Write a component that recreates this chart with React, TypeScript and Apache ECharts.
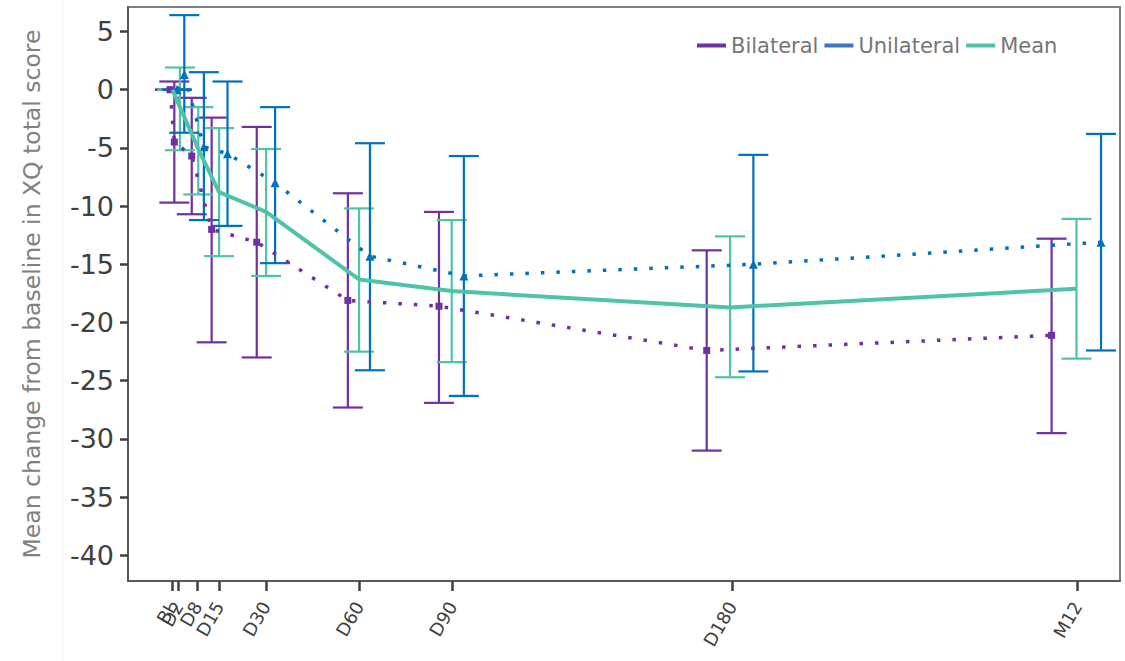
import React, { useEffect, useRef } from "react";
import * as echarts from "echarts";

// Timepoints (x position in days on the axis)
const tickLabels = ["BL", "D2", "D8", "D15", "D30", "D60", "D90", "D180", "M12"];
const tickDays = [0, 2, 8, 15, 30, 60, 90, 180, 291];

// Bilateral (dodged left)
const bilateralX = [-0.8, 0.6, 6.2, 12.6, 27.1, 56.4, 85.7, 171.8, 282.7];
const bilateralMean = [0, -4.5, -5.7, -12.0, -13.1, -18.1, -18.6, -22.4, -21.1];
const bilateralLow = [0, -9.7, -10.7, -21.7, -23.0, -27.3, -26.9, -31.0, -29.5];
const bilateralHigh = [0, 0.7, -0.7, -2.4, -3.2, -8.9, -10.5, -13.8, -12.8];

// Mean (centre)
const meanX = [0, 2.4, 8.3, 15.0, 30.1, 60.0, 89.8, 179.3, 290.7];
const meanMean = [0, -1.5, -5.1, -8.8, -10.5, -16.3, -17.3, -18.7, -17.1];
const meanLow = [0, -5.2, -9.0, -14.3, -16.0, -22.5, -23.4, -24.7, -23.1];
const meanHigh = [0, 1.9, -1.5, -3.3, -5.1, -10.2, -11.2, -12.6, -11.1];

// Unilateral (dodged right)
const unilateralX = [1.45, 3.8, 10.1, 17.7, 33.0, 63.5, 93.7, 186.8, 298.6];
const unilateralMean = [0, 1.3, -4.9, -5.5, -8.0, -14.3, -16.0, -15.0, -13.1];
const unilateralLow = [0, -3.7, -11.2, -11.7, -14.9, -24.1, -26.3, -24.2, -22.4];
const unilateralHigh = [0, 6.4, 1.5, 0.7, -1.5, -4.6, -5.7, -5.6, -3.8];

const yTicks = [5, 0, -5, -10, -15, -20, -25, -30, -35, -40];

const PURPLE = "#7030A0";
const BLUE = "#0070C0";
const BLUE_LEGEND = "#4472C4";
const TEAL = "#4EC3A8";

const errorRender = (color: string) => (params: any, api: any) => {
  const x = api.value(0);
  const lo = api.value(1);
  const hi = api.value(2);
  const pHi = api.coord([x, hi]);
  const pLo = api.coord([x, lo]);
  const w = 15;
  const style = { stroke: color, lineWidth: 2.2, fill: null };
  return {
    type: "group",
    children: [
      { type: "line", shape: { x1: pHi[0], y1: pHi[1], x2: pLo[0], y2: pLo[1] }, style },
      { type: "line", shape: { x1: pHi[0] - w, y1: pHi[1], x2: pHi[0] + w, y2: pHi[1] }, style },
      { type: "line", shape: { x1: pLo[0] - w, y1: pLo[1], x2: pLo[0] + w, y2: pLo[1] }, style },
    ],
  };
};

const zipErr = (xs: number[], lo: number[], hi: number[]) => xs.map((x, i) => [x, lo[i], hi[i]]);
const zipPt = (xs: number[], ys: number[]) => xs.map((x, i) => [x, ys[i]]);

export default function App() {
  const ref = useRef<HTMLDivElement>(null);
  useEffect(() => {
    if (!ref.current) return;
    const chart = echarts.init(ref.current, undefined, { renderer: "svg" });
    const font = "DejaVu Sans";
    const labelFmt = (v: number) => {
      const i = tickDays.findIndex((t) => Math.abs(t - v) < 1e-6);
      return i >= 0 ? tickLabels[i] : "";
    };
    // split ticks into two interleaved sets so close neighbours are not dropped
    const ticksA = tickDays.filter((_, i) => i % 2 === 0);
    const ticksB = tickDays.filter((_, i) => i % 2 === 1);
    const xAxisFor = (vals: number[], showLine: boolean) => ({
      type: "value",
      min: -14.3,
      max: 304.7,
      position: "bottom",
      splitLine: { show: false },
      axisLine: { show: showLine, onZero: false, lineStyle: { color: "#595959", width: 2 } },
      axisTick: {
        show: true,
        customValues: vals,
        length: 10,
        lineStyle: { color: "#404040", width: 2.5 },
      },
      axisLabel: {
        customValues: vals,
        interval: 0,
        hideOverlap: false,
        showMinLabel: true,
        showMaxLabel: true,
        rotate: 60,
        margin: 22,
        fontSize: 18,
        color: "#404040",
        fontFamily: font,
        formatter: labelFmt,
      },
    });
    chart.setOption({
      animation: false,
      backgroundColor: "#ffffff",
      textStyle: { fontFamily: font },
      graphic: [
        {
          type: "line",
          shape: { x1: 63, y1: 0, x2: 63, y2: 661 },
          style: { stroke: "#f2f2f2", lineWidth: 1 },
          silent: true,
        },
      ],
      legend: {
        left: 697,
        top: 35,
        padding: 0,
        itemGap: 6,
        itemWidth: 29,
        itemHeight: 4,
        icon: "rect",
        textStyle: { fontSize: 21, color: "#767676", fontFamily: font },
        data: [
          { name: "Bilateral", itemStyle: { color: PURPLE } },
          { name: "Unilateral", itemStyle: { color: BLUE_LEGEND } },
          { name: "Mean", itemStyle: { color: TEAL } },
        ],
      },
      grid: {
        left: 128,
        top: 7,
        right: 5,
        bottom: 80,
        show: true,
        borderColor: "#7f7f7f",
        borderWidth: 2,
        containLabel: false,
      },
      xAxis: [xAxisFor(ticksA, true), xAxisFor(ticksB, false)],
      yAxis: {
        type: "value",
        min: -42.2,
        max: 7.1,
        name: "Mean change from baseline in XQ total score",
        nameLocation: "middle",
        nameGap: 84,
        nameTextStyle: { fontSize: 23.5, color: "#808080", fontFamily: font },
        splitLine: { show: false },
        axisLine: { show: true, onZero: false, lineStyle: { color: "#595959", width: 2 } },
        axisTick: {
          show: true,
          customValues: yTicks,
          length: 8,
          lineStyle: { color: "#404040", width: 2.5 },
        },
        axisLabel: {
          customValues: yTicks,
          fontSize: 27,
          margin: 14,
          color: "#404040",
          fontFamily: font,
        },
      },
      series: [
        {
          name: "Bilateral",
          type: "custom",
          renderItem: errorRender(PURPLE),
          encode: { x: 0, y: [1, 2] },
          data: zipErr(bilateralX, bilateralLow, bilateralHigh),
          itemStyle: { color: PURPLE },
          z: 2,
        },
        {
          name: "Mean",
          type: "custom",
          renderItem: errorRender(TEAL),
          encode: { x: 0, y: [1, 2] },
          data: zipErr(meanX, meanLow, meanHigh),
          itemStyle: { color: TEAL },
          z: 2,
        },
        {
          name: "Unilateral",
          type: "custom",
          renderItem: errorRender(BLUE),
          encode: { x: 0, y: [1, 2] },
          data: zipErr(unilateralX, unilateralLow, unilateralHigh),
          itemStyle: { color: BLUE },
          z: 2,
        },
        {
          name: "Bilateral",
          type: "line",
          data: zipPt(bilateralX, bilateralMean),
          symbol: "rect",
          symbolSize: 7,
          itemStyle: { color: PURPLE },
          lineStyle: { color: PURPLE, width: 3.5, type: [3.5, 12] },
          z: 3,
        },
        {
          name: "Unilateral",
          type: "line",
          data: zipPt(unilateralX, unilateralMean),
          symbol: "triangle",
          symbolSize: 9,
          itemStyle: { color: BLUE },
          lineStyle: { color: BLUE, width: 3.5, type: [3.5, 12] },
          z: 3,
        },
        {
          name: "Mean",
          type: "line",
          data: zipPt(meanX, meanMean),
          symbol: "none",
          itemStyle: { color: TEAL },
          lineStyle: { color: TEAL, width: 4 },
          z: 4,
        },
      ],
    });
    return () => chart.dispose();
  }, []);
  return (
    <div
      ref={ref}
      style={{ position: "fixed", left: 0, top: 0, width: 1125, height: 661, background: "#fff" }}
    />
  );
}
